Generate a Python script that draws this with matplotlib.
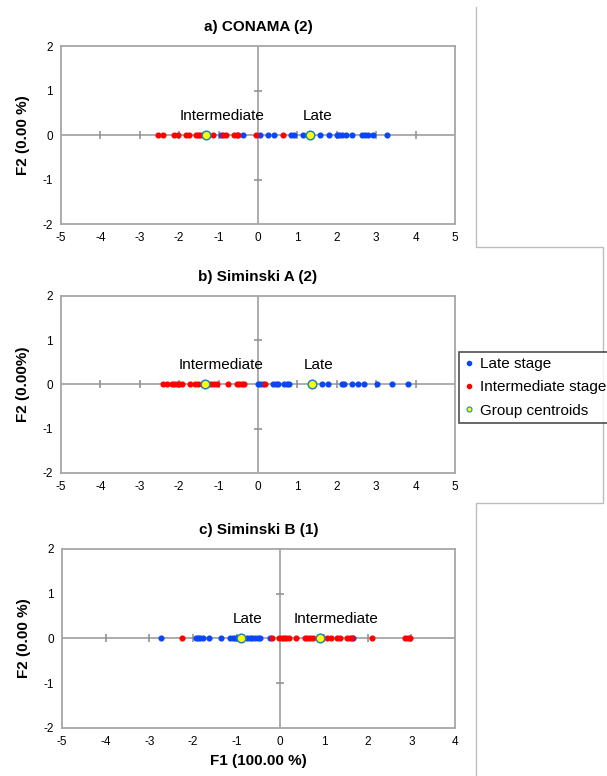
import numpy as np
import matplotlib
matplotlib.use("Agg")
from matplotlib import pyplot as plt
from matplotlib.lines import Line2D

plt.rcParams['font.family'] = ['Liberation Sans', 'DejaVu Sans']
plt.rcParams['axes.unicode_minus'] = False

# ---------------- Data (F1 scores, F2 is always 0) ---------------- #

# a) CONAMA (2)
a_late = [-0.95, -0.37, 0.05, 0.26, 0.41, 0.84, 0.91, 1.15, 1.57, 1.81, 2.0, 2.06,
          2.14, 2.23, 2.38, 2.63, 2.72, 2.8, 2.91, 3.27]
a_inter = [-2.53, -2.42, -2.13, -2.02, -1.83, -1.74, -1.57, -1.51, -1.46, -1.39,
           -1.15, -0.88, -0.8, -0.61, -0.54, -0.5, -0.05, 0.63]
a_centroids = [-1.32, 1.32]

# b) Siminski A (2)
b_late = [-0.01, 0.05, 0.12, 0.37, 0.46, 0.52, 0.67, 0.73, 0.79, 1.63, 1.78, 2.14,
          2.18, 2.38, 2.55, 2.69, 3.01, 3.39, 3.81]
b_inter = [-2.42, -2.30, -2.19, -2.13, -2.05, -2.0, -1.94, -1.73, -1.60, -1.51,
           -1.43, -1.26, -1.18, -1.12, -1.05, -0.75, -0.54, -0.48, -0.41, -0.36, 0.19]
b_centroids = [-1.35, 1.36]

# c) Siminski B (1)
c_late = [-2.73, -1.93, -1.88, -1.83, -1.78, -1.63, -1.35, -1.16, -1.09, -1.04,
          -1.0, -0.77, -0.70, -0.64, -0.58, -0.52, -0.47, -0.24, 1.66]
c_inter = [-2.24, -0.20, -0.03, 0.03, 0.09, 0.14, 0.20, 0.37, 0.56, 0.61, 0.68,
           0.75, 1.07, 1.15, 1.29, 1.36, 1.53, 1.59, 1.65, 2.09, 2.85, 2.92, 2.98]
c_centroids = [-0.90, 0.90]

titles = ["a) CONAMA (2)", "b) Siminski A (2)", "c) Siminski B (1)"]
ylabels = ["F2 (0.00 %)", "F2 (0.00%)", "F2 (0.00 %)"]
xlims = [(-5, 5), (-5, 5), (-5, 4)]
# group labels: (text, x position)
group_labels = [
    [("Intermediate", -0.9), ("Late", 1.52)],
    [("Intermediate", -0.93), ("Late", 1.54)],
    [("Late", -0.74), ("Intermediate", 1.28)],
]

late_sets = [a_late, b_late, c_late]
inter_sets = [a_inter, b_inter, c_inter]
centroid_sets = [a_centroids, b_centroids, c_centroids]

# ---------------- Plot ---------------- #

BLUE = "#0A46F5"
RED = "#FF0000"
GRAY = "#A6A6A6"
TICK_GRAY = "#8C8C8C"

fig = plt.figure(figsize=(6.07, 7.76), dpi=100)
positions = [
    [0.1005, 0.7113, 0.649, 0.2294],
    [0.1005, 0.3905, 0.649, 0.2281],
    [0.1021, 0.0619, 0.6474, 0.2307],
]

for i in range(3):
    ax = fig.add_axes(positions[i])
    x0, x1 = xlims[i]
    ax.set_xlim(x0, x1)
    ax.set_ylim(-2, 2)

    # Zero axes with cross ticks.
    ax.axhline(0, color=GRAY, lw=1.3, zorder=1)
    ax.axvline(0, color=GRAY, lw=1.3, zorder=1)
    xt = [v for v in range(x0 + 1, x1) if v != 0]
    ax.plot(xt, np.zeros(len(xt)), ls='none', marker='|', ms=6, mew=1.1,
            color=TICK_GRAY, zorder=1)
    ax.plot([0, 0], [-1, 1], ls='none', marker='_', ms=6, mew=1.1,
            color=TICK_GRAY, zorder=1)

    # Points.
    ax.plot(late_sets[i], np.zeros(len(late_sets[i])), ls='none', marker='o',
            ms=3.4, color=BLUE, mec=BLUE, zorder=3)
    ax.plot(inter_sets[i], np.zeros(len(inter_sets[i])), ls='none', marker='o',
            ms=3.4, color=RED, mec=RED, zorder=3)
    ax.plot(centroid_sets[i], np.zeros(len(centroid_sets[i])), ls='none',
            marker='o', ms=6.2, mfc="#FFFF00", mec="#1E88B4", mew=1.1, zorder=4)

    for txt, xpos in group_labels[i]:
        ax.text(xpos, 0.43, txt, ha='center', va='center', fontsize=11)

    for s in ax.spines.values():
        s.set_color(GRAY)
        s.set_linewidth(1.3)

    ax.set_xticks(range(x0, x1 + 1))
    ax.set_yticks(range(-2, 3))
    ax.tick_params(length=0, labelsize=8.5, pad=6, colors='black')
    ax.set_title(titles[i], fontsize=11, fontweight='bold', pad=11)
    ax.set_ylabel(ylabels[i], fontsize=11, fontweight='bold')
    ax.yaxis.set_label_coords(-0.078, 0.5)
    if i == 2:
        ax.set_xlabel("F1 (100.00 %)", fontsize=11, fontweight='bold')
        ax.xaxis.set_label_coords(0.5, -0.145)

# Frame lines on the right side (figure fraction coordinates).
frame_x = [0.784, 0.784, 0.993, 0.993, 0.784, 0.784]
frame_y = [0.991, 0.682, 0.682, 0.352, 0.352, 0.0]
fig.add_artist(Line2D(frame_x, frame_y, color="#BDBDBD", lw=1.0,
                      transform=fig.transFigure))

# Legend.
handles = [
    Line2D([], [], ls='none', marker='o', ms=3, color=BLUE),
    Line2D([], [], ls='none', marker='o', ms=3, color=RED),
    Line2D([], [], ls='none', marker='o', ms=3.6, mfc="#FFFF00", mec="#1E88B4", mew=0.8),
]
leg = fig.legend(handles, ["Late stage", "Intermediate stage", "Group centroids"],
                 loc='upper left', bbox_to_anchor=(0.756, 0.547), fontsize=11,
                 frameon=True, fancybox=False, handlelength=0.6,
                 handletextpad=0.4, labelspacing=0.62, borderpad=0.35,
                 borderaxespad=0)
leg.get_frame().set_edgecolor("#222222")
leg.get_frame().set_linewidth(1.2)

fig.savefig("out.png", dpi=100)
